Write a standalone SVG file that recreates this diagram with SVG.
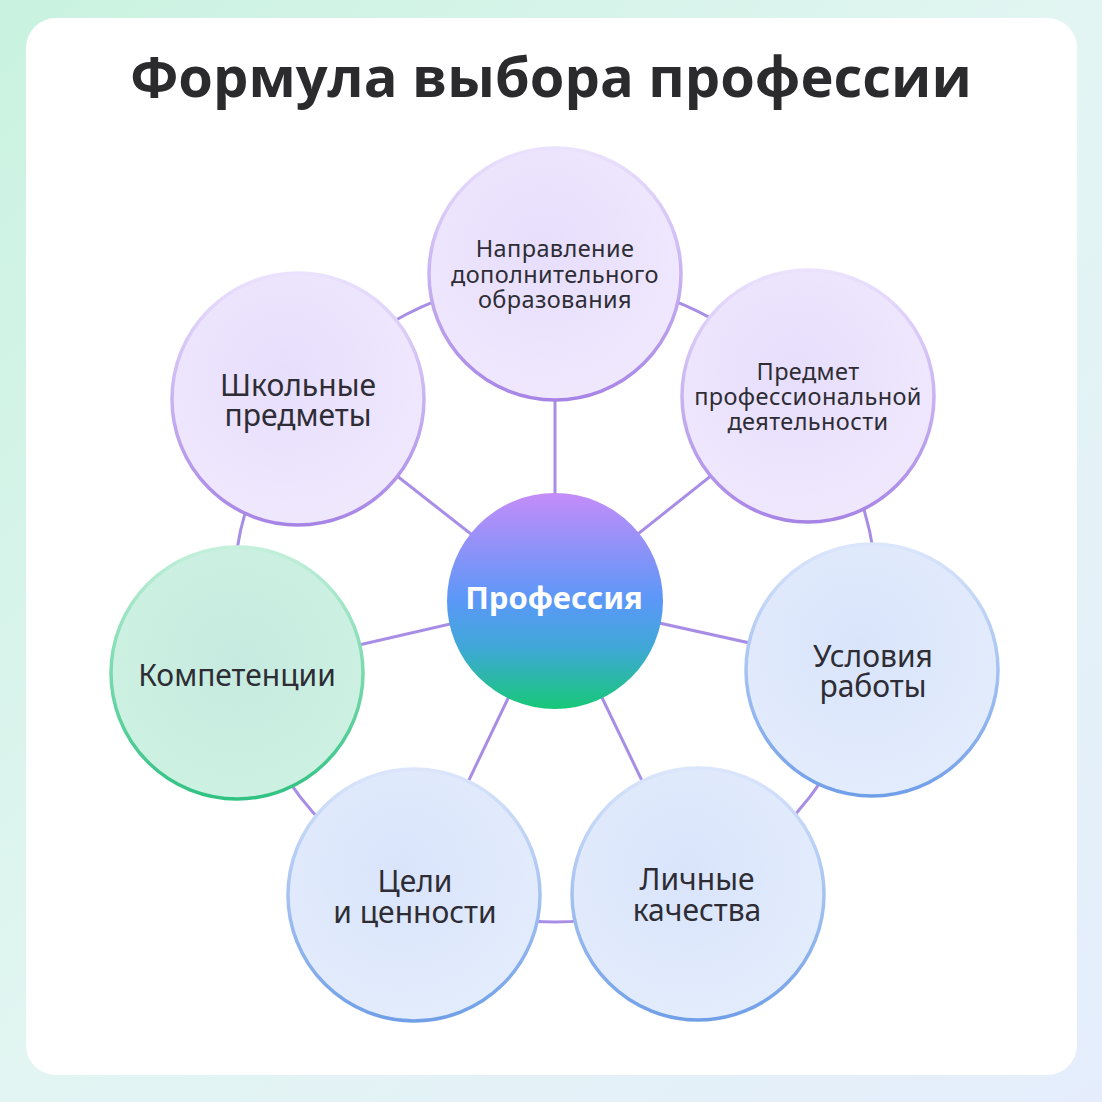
<svg xmlns="http://www.w3.org/2000/svg" width="1102" height="1102" viewBox="0 0 1102 1102">
<defs>
<linearGradient id="bg" x1="0" y1="0" x2="1" y2="1">
<stop offset="0" stop-color="#c9f2e0"/>
<stop offset="0.5" stop-color="#e2f5f2"/>
<stop offset="1" stop-color="#e5edfc"/>
</linearGradient>
<linearGradient id="core" x1="0" y1="0" x2="0" y2="1">
<stop offset="0" stop-color="#c48cf9"/>
<stop offset="0.5" stop-color="#5a98f7"/>
<stop offset="0.72" stop-color="#3fa8d6"/>
<stop offset="1" stop-color="#17c878"/>
</linearGradient>
<linearGradient id="strokeP" x1="0" y1="0" x2="0" y2="1">
<stop offset="0" stop-color="#ebe2fd"/>
<stop offset="1" stop-color="#a684e6"/>
</linearGradient>
<linearGradient id="strokeB" x1="0" y1="0" x2="0" y2="1">
<stop offset="0" stop-color="#dbe6fb"/>
<stop offset="1" stop-color="#709fe8"/>
</linearGradient>
<linearGradient id="strokeG" x1="0" y1="0" x2="0" y2="1">
<stop offset="0" stop-color="#c4f0dc"/>
<stop offset="1" stop-color="#30c282"/>
</linearGradient>
<radialGradient id="fillP" cx="0.45" cy="0.4" r="0.6">
<stop offset="0" stop-color="#e7defc"/>
<stop offset="1" stop-color="#efe8fd"/>
</radialGradient>
<radialGradient id="fillB" cx="0.45" cy="0.4" r="0.6">
<stop offset="0" stop-color="#d9e4fb"/>
<stop offset="1" stop-color="#e3ecfc"/>
</radialGradient>
<radialGradient id="fillG" cx="0.5" cy="0.45" r="0.6">
<stop offset="0" stop-color="#c6eadf"/>
<stop offset="1" stop-color="#cdf2e2"/>
</radialGradient>
<style>
.node text{font-family:"Noto Sans","Open Sans","DejaVu Sans",sans-serif;fill:#2e2d35;text-anchor:middle;}
.big{font-size:30px;}
.small{font-size:23.5px;letter-spacing:0.4px;}
.p circle{fill:url(#fillP);stroke:url(#strokeP);stroke-width:3.5;}
.b circle{fill:url(#fillB);stroke:url(#strokeB);stroke-width:3.5;}
.g circle{fill:url(#fillG);stroke:url(#strokeG);stroke-width:3.5;}
#connectors line,#connectors circle{stroke:#a88de6;stroke-width:3;fill:none;}
</style>
</defs>
<rect x="0" y="0" width="1102" height="1102" fill="url(#bg)"/>
<rect x="26" y="18" width="1051" height="1057" rx="30" fill="#ffffff"/>
<text x="551" y="97" font-family="Open Sans, Noto Sans, sans-serif" font-weight="bold" font-size="56" fill="#2b2b2e" text-anchor="middle">Формула выбора профессии</text>
<g id="connectors">
<circle cx="555" cy="600" r="322"/>
<line x1="555" y1="600" x2="555" y2="274"/>
<line x1="555" y1="600" x2="810" y2="397"/>
<line x1="555" y1="600" x2="872" y2="670"/>
<line x1="555" y1="600" x2="697" y2="895"/>
<line x1="555" y1="600" x2="414" y2="895"/>
<line x1="555" y1="600" x2="237" y2="673"/>
<line x1="555" y1="600" x2="299" y2="399"/>
</g>
<g id="node-top" class="node p">
<circle cx="555" cy="274" r="126"/>
<text class="small" x="555" y="257">Направление</text>
<text class="small" x="555" y="283">дополнительного</text>
<text class="small" x="555" y="308">образования</text>
</g>
<g id="node-upper-right" class="node p">
<circle cx="808" cy="396" r="126"/>
<text class="small" x="808" y="380">Предмет</text>
<text class="small" x="808" y="405">профессиональной</text>
<text class="small" x="808" y="430">деятельности</text>
</g>
<g id="node-right" class="node b">
<circle cx="872" cy="670" r="126"/>
<text class="big" x="873" y="667">Условия</text>
<text class="big" x="873" y="697">работы</text>
</g>
<g id="node-lower-right" class="node b">
<circle cx="698" cy="894" r="126"/>
<text class="big" x="697" y="890">Личные</text>
<text class="big" x="697" y="921">качества</text>
</g>
<g id="node-lower-left" class="node b">
<circle cx="414" cy="895" r="126"/>
<text class="big" x="415" y="892">Цели</text>
<text class="big" x="415" y="923">и ценности</text>
</g>
<g id="node-left" class="node g">
<circle cx="237" cy="673" r="126"/>
<text class="big" x="237" y="686">Компетенции</text>
</g>
<g id="node-upper-left" class="node p">
<circle cx="298" cy="399" r="126"/>
<text class="big" x="298" y="396">Школьные</text>
<text class="big" x="298" y="426">предметы</text>
</g>
<g id="node-center">
<circle cx="555" cy="601" r="108" fill="url(#core)"/>
<text x="554" y="609" font-family="Noto Sans, Open Sans, sans-serif" font-weight="bold" font-size="31" fill="#ffffff" text-anchor="middle">Профессия</text>
</g>
</svg>
